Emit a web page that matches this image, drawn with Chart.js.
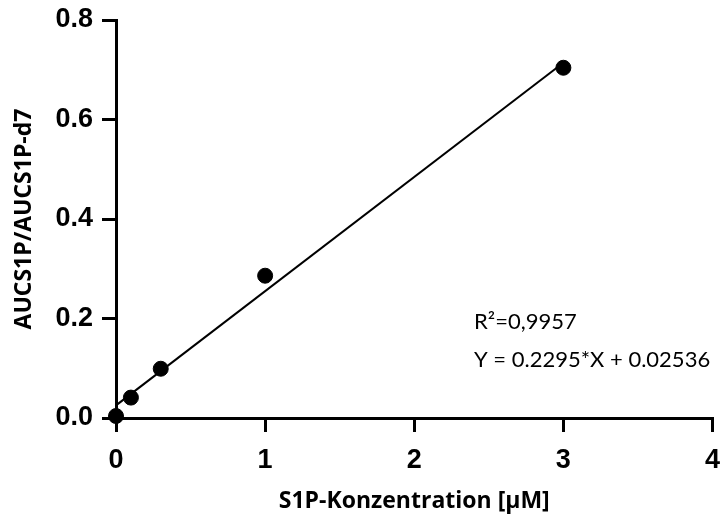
<!DOCTYPE html>
<html>
<head>
<meta charset="utf-8">
<script src="https://cdn.jsdelivr.net/npm/chart.js@4/dist/chart.umd.min.js"></script>
<style>
  html, body { margin: 0; padding: 0; background: #fff; }
  #wrap { width: 721px; height: 517px; position: relative; }
</style>
</head>
<body>
<div id="wrap"><canvas id="calib"></canvas></div>
<script>
// Messpunkte
const concX = [0, 0.1, 0.3, 1, 3];
const ratioY = [0.004, 0.041, 0.099, 0.286, 0.704];
// Regressionsgerade (Endpunkte)
const fitX = [0, 3];
const fitY = [0.0254, 0.714];
const xTicks = [0, 1, 2, 3, 4];
const yTicks = [0, 0.2, 0.4, 0.6, 0.8];
const annotLines = ['R\u00b2=0,9957', 'Y = 0.2295*X + 0.02536'];

const tickFont = { family: '"Liberation Sans", Arial, sans-serif', size: 27, weight: 'bold' };
const titleFont = { family: '"Open Sans", sans-serif', size: 23, weight: 'bold' };

const annotPlugin = {
  id: 'annot',
  afterDraw(chart) {
    const ctx = chart.ctx;
    ctx.save();
    ctx.fillStyle = '#000';
    ctx.font = '22px Lato, "Open Sans", sans-serif';
    ctx.textBaseline = 'middle';
    ctx.fillText(annotLines[0], 474, 322);
    ctx.fillText(annotLines[1], 474, 360);
    ctx.restore();
  }
};

new Chart(document.getElementById('calib').getContext('2d'), {
  type: 'scatter',
  data: {
    datasets: [{
      type: 'line',
      data: fitX.map((x, i) => ({ x: x, y: fitY[i] })),
      borderColor: '#000',
      borderWidth: 2,
      pointRadius: 0,
      fill: false
    }, {
      data: concX.map((x, i) => ({ x: x, y: ratioY[i] })),
      backgroundColor: '#000',
      borderColor: '#000',
      pointRadius: 7.5,
      pointHoverRadius: 7.5,
      clip: false
    }]
  },
  options: {
    responsive: true,
    maintainAspectRatio: false,
    animation: false,
    layout: { padding: { top: 20, right: 8, left: 0, bottom: 0 } },
    plugins: {
      legend: { display: false },
      tooltip: { enabled: false }
    },
    scales: {
      x: {
        type: 'linear',
        min: 0, max: 4,
        afterBuildTicks: (axis) => { axis.ticks = xTicks.map(v => ({ value: v })); },
        afterFit: (axis) => {
          axis.height = 99;
          axis.paddingLeft = 0;
          axis.paddingRight = 0;
        },
        border: { color: '#000', width: 3 },
        grid: { drawOnChartArea: false, color: '#000', lineWidth: 3, tickLength: 14 },
        ticks: { color: '#000', padding: 12, font: tickFont },
        title: {
          display: true,
          text: 'S1P-Konzentration [\u00b5M]',
          color: '#000',
          padding: { top: 0, bottom: 2 },
          font: titleFont
        }
      },
      y: {
        type: 'linear',
        min: 0, max: 0.8,
        afterBuildTicks: (axis) => { axis.ticks = yTicks.map(v => ({ value: v })); },
        afterFit: (axis) => {
          axis.width = 116;
          axis.paddingTop = 0;
          axis.paddingBottom = 0;
        },
        border: { color: '#000', width: 3 },
        grid: { drawOnChartArea: false, color: '#000', lineWidth: 3, tickLength: 14 },
        ticks: {
          color: '#000',
          padding: 9,
          callback: (v) => v.toFixed(1),
          font: tickFont
        },
        title: {
          display: true,
          text: 'AUCS1P/AUCS1P-d7',
          color: '#000',
          padding: { top: 11, bottom: 0 },
          font: titleFont
        }
      }
    }
  },
  plugins: [annotPlugin]
});
</script>
</body>
</html>
